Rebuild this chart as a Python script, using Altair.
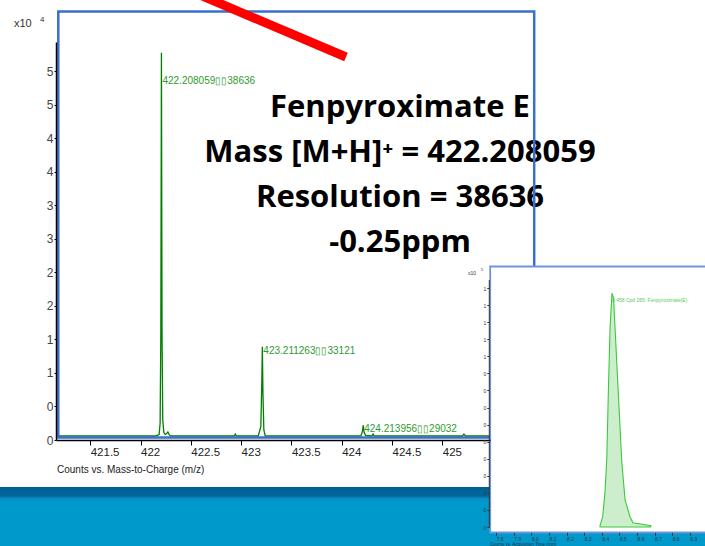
import altair as alt
import pandas as pd

# ---- mass spectrum profile: m/z and counts (x10^4) ----
spec_mz = [421.16, 422.15, 422.185, 422.195, 422.202, 422.208059, 422.214, 422.221,
           422.232, 422.245, 422.262, 422.272, 422.285, 422.30, 422.93, 422.942,
           422.954, 423.17, 423.196, 423.205, 423.211263, 423.217, 423.226, 423.24,
           424.19, 424.205, 424.213956, 424.222, 424.236, 424.30, 424.312, 424.324,
           425.20, 425.215, 425.23, 425.47]
spec_counts = [0.06, 0.06, 0.08, 0.25, 1.6, 5.78, 1.6, 0.3,
               0.11, 0.08, 0.10, 0.12, 0.08, 0.06, 0.06, 0.09,
               0.06, 0.06, 0.2, 0.8, 1.39, 0.7, 0.15, 0.06,
               0.06, 0.12, 0.22, 0.12, 0.07, 0.06, 0.09, 0.06,
               0.06, 0.09, 0.06, 0.06]

# ---- annotated isotope peaks ----
peak_mz = [422.208059, 423.211263, 424.213956]
peak_counts = [5.78, 1.39, 0.22]
peak_resolution = [38636, 33121, 29032]

mz_ticks = [421.5, 422.0, 422.5, 423.0, 423.5, 424.0, 424.5, 425.0]
count_ticks = [0, 0.5, 1.0, 1.5, 2.0, 2.5, 3.0, 3.5, 4.0, 4.5, 5.0, 5.5]

# ---- extracted compound chromatogram: time (min) and counts (x10^5) ----
eic_time = [8.390, 8.405, 8.418, 8.428, 8.437, 8.447, 8.458, 8.467, 8.475,
            8.494, 8.513, 8.532, 8.560, 8.577, 8.678]
eic_counts = [0.008, 0.06, 0.20, 0.39, 0.78, 1.17, 1.37, 1.34, 1.17,
              0.78, 0.39, 0.16, 0.06, 0.025, 0.008]
eic_compound = "Cpd 265: Fenpyroximate(E)"
time_ticks = [7.8, 7.9, 8.0, 8.1, 8.2, 8.3, 8.4, 8.5, 8.6, 8.7, 8.8, 8.9]
eic_count_ticks = [0, 0.1, 0.2, 0.3, 0.4, 0.5, 0.6, 0.7, 0.8, 0.9, 1.0, 1.1, 1.2, 1.3, 1.4]

title_lines = ["Fenpyroximate E", "Mass [M+H]\u207a = 422.208059",
               "Resolution = 38636", "-0.25ppm"]

AX_FONT = "Liberation Sans"

spec_df = pd.DataFrame({"mz": spec_mz, "counts": spec_counts})
peak_df = pd.DataFrame({
    "mz": peak_mz,
    "counts": peak_counts,
    "label": [f"{m:.6f}\u25af\u25af{r}" for m, r in zip(peak_mz, peak_resolution)],
})
eic_df = pd.DataFrame({"time": eic_time, "counts": eic_counts})
top = eic_df.loc[eic_df["counts"].idxmax()]
eic_label_df = pd.DataFrame({
    "time": [top["time"]],
    "counts": [top["counts"]],
    "label": [f"{top['time']:.3f} {eic_compound}"],
})

one = pd.DataFrame({"k": [0]})

# ---- main spectrum scales and axes ----
main_x = alt.Scale(domain=[421.16, 425.474], range=[56, 490], nice=False, zero=False)
main_y = alt.Scale(domain=[0, 5.94], range=[440, 42], nice=False, zero=False)
main_x_axis = alt.Axis(
    orient="bottom", offset=-106, values=mz_ticks, format="~f", title=None,
    grid=False, labelAlign="left", labelFont=AX_FONT, labelFontSize=11.5,
    labelColor="#222222", labelPadding=1, labelFlush=False, labelOverlap=False,
    tickSize=5, tickColor="black", domainColor="black", domainWidth=1.5, zindex=1)
main_y_axis = alt.Axis(
    orient="left", offset=-56, values=count_ticks,
    labelExpr="'' + floor(datum.value)", title=None, grid=False,
    labelFont=AX_FONT, labelFontSize=12, labelColor="#444444",
    labelPadding=1, labelOverlap=False, labelFlush=False,
    tickSize=2, tickColor="black", domainColor="black", domainWidth=1.5, zindex=1)

spec_line = alt.Chart(spec_df).mark_line(color="#007f00", strokeWidth=1.3).encode(
    x=alt.X("mz:Q", scale=main_x, axis=main_x_axis),
    y=alt.Y("counts:Q", scale=main_y, axis=main_y_axis),
)

peak_labels = alt.Chart(peak_df).transform_calculate(
    ly="min(datum.counts, 5.42)"
).mark_text(align="left", baseline="middle", dx=1, dy=4, font=AX_FONT,
            fontSize=10, color="#2f9a2f").encode(
    x=alt.X("mz:Q", scale=main_x, axis=main_x_axis),
    y=alt.Y("ly:Q", scale=main_y, axis=main_y_axis),
    text="label:N",
)

main_layer = alt.layer(spec_line, peak_labels)

# ---- inset chromatogram ----
inset_x = alt.Scale(domain=[7.8, 8.9], range=[496.2, 689.8], nice=False, zero=False)
inset_y = alt.Scale(domain=[0, 1.45], range=[527, 279.5], nice=False, zero=False)
inset_x_axis = alt.Axis(
    orient="bottom", offset=-13.5, values=time_ticks, format=".1f", title=None,
    grid=False, domain=False, labelFont=AX_FONT, labelFontSize=5,
    labelColor="#333333", labelAlign="left", labelPadding=1, labelFlush=False,
    labelOverlap=False, tickSize=3, tickColor="#333333", zindex=1)
inset_y_axis = alt.Axis(
    orient="left", offset=-488.8, values=eic_count_ticks,
    labelExpr="'' + floor(datum.value)", title=None, grid=False,
    labelFont=AX_FONT, labelFontSize=5, labelColor="#333333",
    labelPadding=1, labelOverlap=False, labelFlush=False, tickSize=2,
    tickColor="#333333", domainColor="#333333", domainWidth=1, zindex=1)

inset_frame = alt.Chart(one).mark_rect(fill="white", stroke="#6d95dc", strokeWidth=1.8).encode(
    x=alt.value(490.2), x2=alt.value(720), y=alt.value(266.5), y2=alt.value(532.5))

eic_area = alt.Chart(eic_df).mark_area(fill="#cdeecd", stroke="#3cc93c", strokeWidth=1.1).encode(
    x=alt.X("time:Q", scale=inset_x, axis=inset_x_axis),
    y=alt.Y("counts:Q", scale=inset_y, axis=inset_y_axis),
)

eic_label = alt.Chart(eic_label_df).mark_text(
    align="left", baseline="middle", dy=7, font=AX_FONT, fontSize=5, color="#5acb5a"
).encode(
    x=alt.X("time:Q", scale=inset_x, axis=inset_x_axis),
    y=alt.Y("counts:Q", scale=inset_y, axis=inset_y_axis),
    text="label:N",
)

inset_layer = alt.layer(eic_area, eic_label)

# ---- slide decorations ----
band = alt.Chart(one).mark_rect(
    color=alt.Gradient(
        gradient="linear", x1=0, x2=0, y1=0, y2=1,
        stops=[alt.GradientStop(color="#005f92", offset=0),
               alt.GradientStop(color="#00679c", offset=0.15),
               alt.GradientStop(color="#0a90c4", offset=0.2),
               alt.GradientStop(color="#0099cc", offset=0.27),
               alt.GradientStop(color="#0099cc", offset=1)])
).encode(x=alt.value(0), x2=alt.value(705), y=alt.value(487), y2=alt.value(546))

headline = alt.Chart(one).mark_text(
    text=title_lines, font="Open Sans", fontSize=31, fontWeight="bold", color="black",
    align="center", baseline="alphabetic", lineHeight=45
).encode(x=alt.value(400), y=alt.value(117))

frame = alt.Chart(one).mark_rect(fillOpacity=0, stroke="#3a6fd0", strokeWidth=2.5).encode(
    x=alt.value(58.3), x2=alt.value(534.2), y=alt.value(11.5), y2=alt.value(437.6))

pointer = alt.Chart(one).mark_rule(color="#ff0000", strokeWidth=9, strokeCap="butt").encode(
    x=alt.value(200), y=alt.value(-5), x2=alt.value(346), y2=alt.value(57))

def note(txt, x, y, size, color="#333333", baseline="middle"):
    return alt.Chart(one).mark_text(
        text=txt, font=AX_FONT, fontSize=size, color=color, align="left",
        baseline=baseline
    ).encode(x=alt.value(x), y=alt.value(y))

notes = [
    note("x10", 14, 24, 11),
    note("4", 40, 20, 8),
    note("Counts vs. Mass-to-Charge (m/z)", 57, 470, 10, "#222222"),
    note("x10", 468, 273, 5),
    note("5", 481, 270, 4),
    note("Counts vs. Acquisition Time (min)", 490, 541.5, 4.5, "#1a3344", "top"),
]

chart = alt.layer(
    band, main_layer, headline, frame, pointer, inset_frame, inset_layer, *notes
).resolve_scale(
    x="independent", y="independent"
).properties(
    width=705, height=546, autosize=alt.AutoSizeParams(type="none"), padding=0,
    background="white"
).configure_view(stroke=None)

chart.save("out.html", embed_options={"renderer": "svg", "actions": False})
